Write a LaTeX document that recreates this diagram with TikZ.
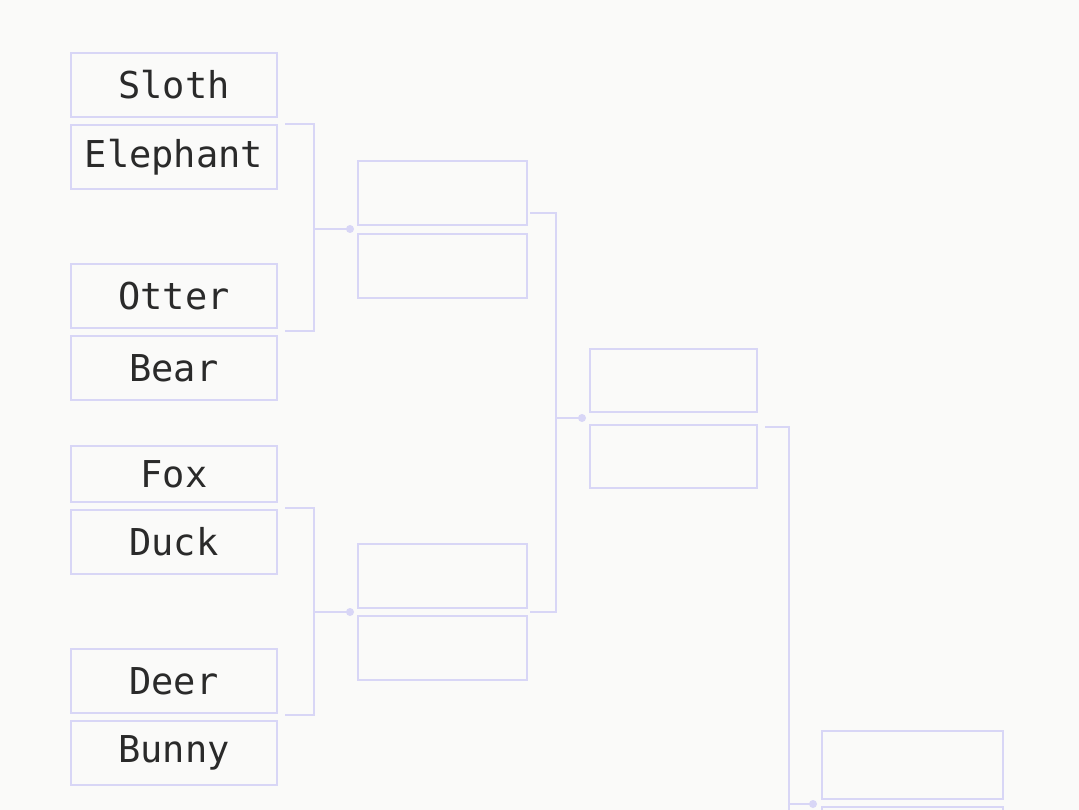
\documentclass[tikz,border=0pt]{standalone}
\usepackage{fontspec}
\setmonofont{DejaVu Sans Mono}
\definecolor{bg}{HTML}{FAFAF9}
\definecolor{ln}{HTML}{D8D6F6}
\definecolor{tx}{HTML}{2A2A2A}
\begin{document}
\begin{tikzpicture}[x=1pt,y=-1pt,
  team/.style={draw=ln,line width=1.8pt,inner sep=0pt,minimum width=206pt,minimum height=64pt,
    font=\ttfamily\fontsize{37}{42}\selectfont,text=tx},
  slot/.style={draw=ln,line width=1.8pt,inner sep=0pt,minimum height=64pt},
  wire/.style={draw=ln,line width=1.8pt},
  dot/.style={fill=ln,circle,inner sep=0pt,minimum size=8pt}]
\fill[bg] (0,0) rectangle (1079,810);
\useasboundingbox (0,0) rectangle (1079,810);
% column 1
\node[team] (sloth) at (174,85) {Sloth};
\node[team] (elephant) at (174,157) {Elephant};
\node[team] (otter) at (174,296) {Otter};
\node[team] (bear) at (174,368) {Bear};
\node[team,minimum height=56pt] (fox) at (174,474) {Fox};
\node[team] (duck) at (174,542) {Duck};
\node[team] (deer) at (174,681) {Deer};
\node[team] (bunny) at (174,753) {Bunny};
% column 2
\node[slot,minimum width=169pt] (a) at (442.5,193) {};
\node[slot,minimum width=169pt] (b) at (442.5,266) {};
\node[slot,minimum width=169pt] (c) at (442.5,576) {};
\node[slot,minimum width=169pt] (d) at (442.5,648) {};
% column 3
\node[slot,minimum width=167pt,minimum height=63pt] (e) at (673.5,380.5) {};
\node[slot,minimum width=167pt,minimum height=63pt] (f) at (673.5,456.5) {};
% column 4
\node[slot,minimum width=181pt,minimum height=68pt] (g) at (912.5,765) {};
\node[slot,minimum width=181pt,minimum height=68pt] (h) at (912.5,841) {};
% bracket 1
\coordinate (b1t) at (285,124);
\coordinate (b1b) at (285,331);
\node[dot] (d1) at (350,229) {};
\draw[wire] (b1t) -| (314,331) -- (b1b);
\draw[wire] (314,229) -- (d1.center);
% bracket 2
\coordinate (b2t) at (285,508);
\coordinate (b2b) at (285,715);
\node[dot] (d2) at (350,612) {};
\draw[wire] (b2t) -| (314,715) -- (b2b);
\draw[wire] (314,612) -- (d2.center);
% bracket 3
\coordinate (b3t) at (530,213);
\coordinate (b3b) at (530,612);
\node[dot] (d3) at (582,418) {};
\draw[wire] (b3t) -| (556,612) -- (b3b);
\draw[wire] (556,418) -- (d3.center);
% bracket 4
\coordinate (b4t) at (765,427);
\coordinate (b4b) at (789,830);
\node[dot] (d4) at (813,804) {};
\draw[wire] (b4t) -| (b4b);
\draw[wire] (789,804) -- (d4.center);
\end{tikzpicture}
\end{document}
